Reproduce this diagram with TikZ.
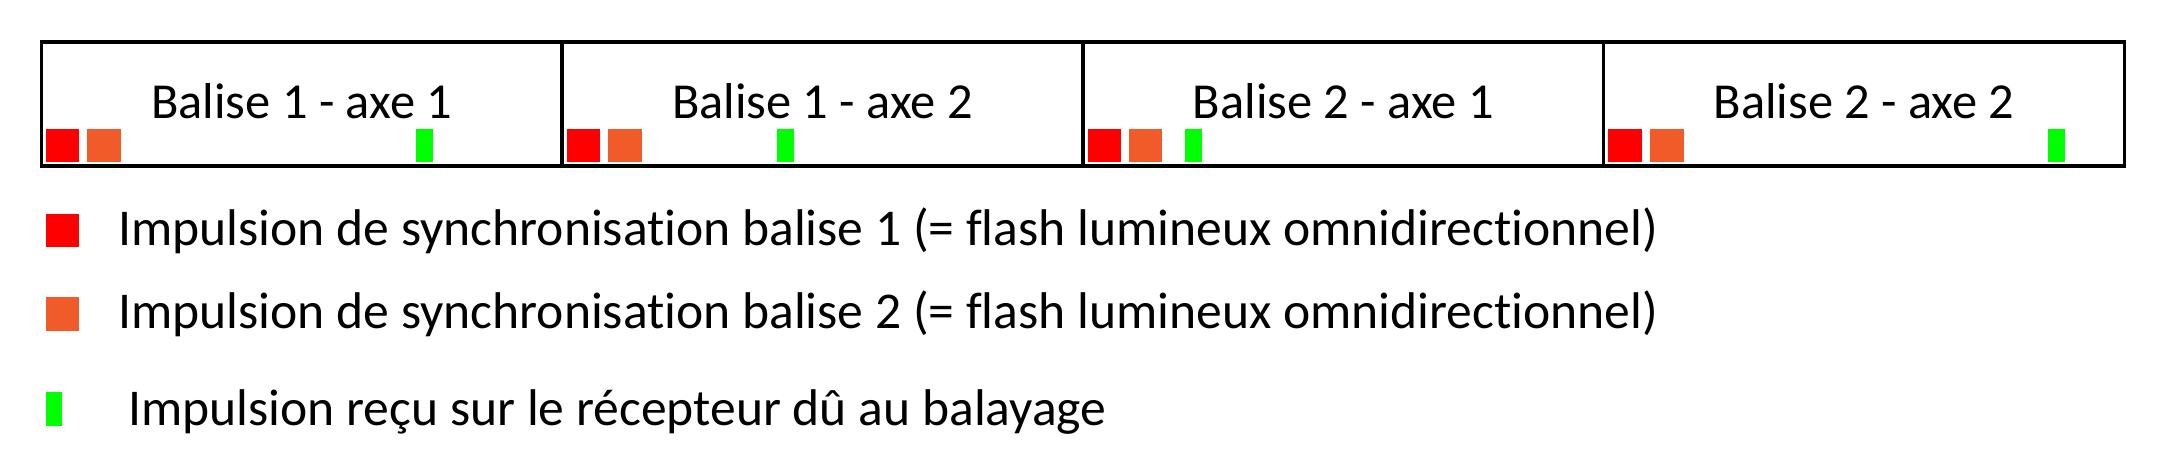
\documentclass[tikz,border=0pt]{standalone}
\usepackage{fontspec}
\setmainfont{Carlito}[Ligatures={NoCommon}]
\definecolor{pred}{HTML}{FF0000}
\definecolor{porange}{HTML}{F15A29}
\definecolor{pgreen}{HTML}{00FF00}
\begin{document}
\begin{tikzpicture}[x=0.5pt,y=-0.5pt,
 cell/.style={draw=black,line width=1.65pt,minimum width=260.4pt,minimum height=62pt,inner sep=0pt,outer sep=0pt},
 sync/.style={inner sep=0pt,outer sep=0pt,minimum width=16.8pt,minimum height=16.65pt,anchor=north west},
 syncA/.style={sync,fill=pred},
 syncB/.style={sync,fill=porange},
 recv/.style={inner sep=0pt,outer sep=0pt,minimum width=8.35pt,minimum height=16.65pt,anchor=north west,fill=pgreen},
 lbl/.style={font=\fontsize{25.2}{30}\selectfont,anchor=base,inner sep=0pt},
 leg/.style={font=\fontsize{25.8}{30}\selectfont,anchor=base west,inner sep=0pt}]
\useasboundingbox (0,0) rectangle (2167,459);
% cells
\node[cell] (c1) at (301.7,104) {};
\node[cell] (c2) at (822.5,104) {};
\node[cell] (c3) at (1343.3,104) {};
\node[cell] (c4) at (1864.1,104) {};
\node[lbl] (t1) at (301.7,118.3) {Balise 1 - axe 1};
\node[lbl] (t2) at (822.5,118.3) {Balise 1 - axe 2};
\node[lbl] (t3) at (1343.3,118.3) {Balise 2 - axe 1};
\node[lbl] (t4) at (1864.1,118.3) {Balise 2 - axe 2};
% pulses
\node[syncA] (r1) at (45.7,129) {};
\node[syncB] (o1) at (87.3,129) {};
\node[recv] (g1) at (416,129) {};
\node[syncA] (r2) at (566.5,129) {};
\node[syncB] (o2) at (608.2,129) {};
\node[recv] (g2) at (777,129) {};
\node[syncA] (r3) at (1087.5,129) {};
\node[syncB] (o3) at (1128.8,129) {};
\node[recv] (g3) at (1185,129) {};
\node[syncA] (r4) at (1607.9,129) {};
\node[syncB] (o4) at (1650,129) {};
\node[recv] (g4) at (2048,129) {};
% legend
\node[syncA] (lr) at (45.7,214) {};
\node[syncB] (lo) at (45.7,297.3) {};
\node[recv] (lg) at (45.7,392.3) {};
\node[leg] (lt1) at (118,246) {Impulsion de synchronisation balise 1 (= flash lumineux omnidirectionnel)};
\node[leg] (lt2) at (118,329) {Impulsion de synchronisation balise 2 (= flash lumineux omnidirectionnel)};
\node[leg] (lt3) at (128,425) {Impulsion reçu sur le récepteur dû au balayage};
\end{tikzpicture}
\end{document}
